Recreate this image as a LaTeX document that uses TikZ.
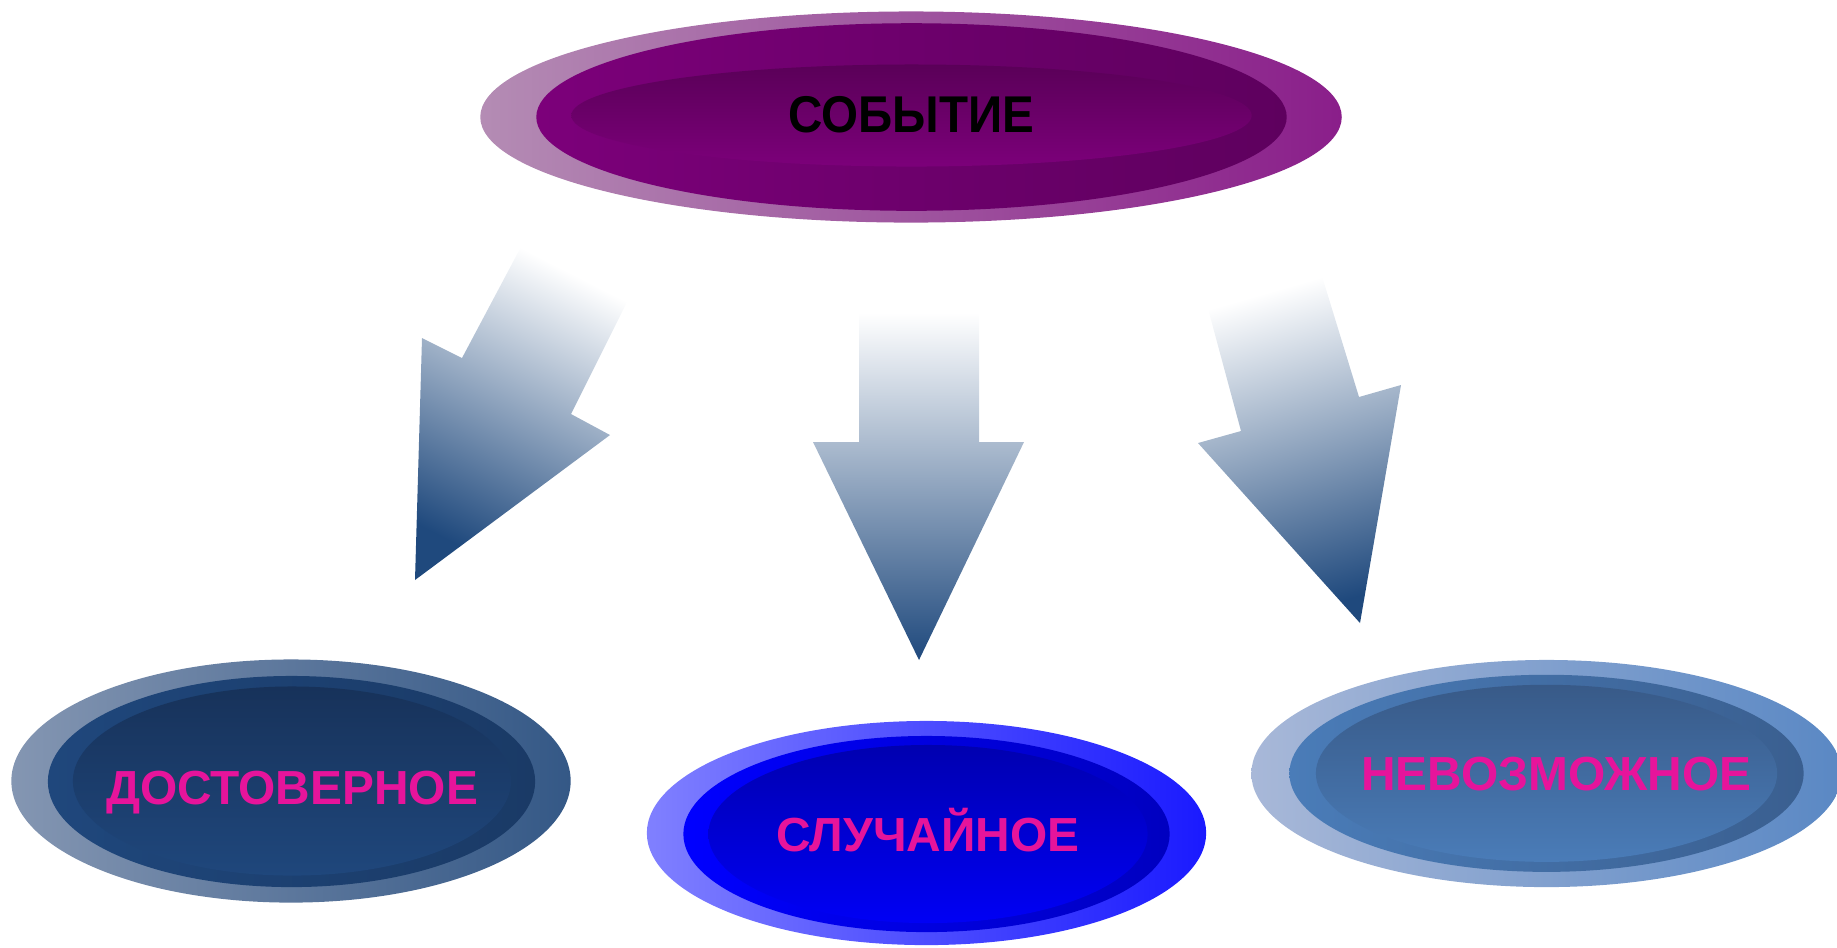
\documentclass[tikz,border=0pt]{standalone}
\usepackage{fontspec}
\setmainfont{Liberation Sans}
\newfontfamily\eventfont[FakeStretch=0.92]{Liberation Sans}
\usetikzlibrary{shapes.geometric}

\definecolor{evtOutL}{HTML}{B48CB4}
\definecolor{evtOutR}{HTML}{8A1E8A}
\definecolor{evtMidL}{HTML}{7C007A}
\definecolor{evtMidR}{HTML}{5E005E}
\definecolor{evtInT}{HTML}{5A0058}
\definecolor{evtInB}{HTML}{7C007A}
\definecolor{sureOutL}{HTML}{8496B2}
\definecolor{sureOutR}{HTML}{345886}
\definecolor{sureMidL}{HTML}{1F477C}
\definecolor{sureMidR}{HTML}{1A3A66}
\definecolor{sureInT}{HTML}{17325A}
\definecolor{sureInB}{HTML}{1F477C}
\definecolor{randOutL}{HTML}{8080FF}
\definecolor{randOutR}{HTML}{1A1AFF}
\definecolor{randMidL}{HTML}{0000FF}
\definecolor{randMidR}{HTML}{0000C0}
\definecolor{randInT}{HTML}{0000B0}
\definecolor{randInB}{HTML}{0000F5}
\definecolor{nopeOutL}{HTML}{A8B8D8}
\definecolor{nopeOutR}{HTML}{5A88C4}
\definecolor{nopeMidL}{HTML}{4A7CB8}
\definecolor{nopeMidR}{HTML}{3A5F90}
\definecolor{nopeInT}{HTML}{385A88}
\definecolor{nopeInB}{HTML}{4A7CB8}
\definecolor{arrowblue}{HTML}{1F497D}
\definecolor{kindtext}{HTML}{E6149B}

\begin{document}
\begin{tikzpicture}[x=0.01cm, y=-0.01cm,
	ring/.style={ellipse, inner sep=0pt, text depth=0pt, text height=0.34cm},
	word/.style={font=\bfseries\fontsize{13.6}{16}\selectfont, text=kindtext},
	arrowshade/.style={top color=white, bottom color=arrowblue}]

	\useasboundingbox (0,0) rectangle (1837,947);

	% top: the event
	\node[ring, left color=evtOutL, right color=evtOutR, minimum width=8.61cm, minimum height=2.11cm] (evt-out) at (911,117) {};
	\node[ring, left color=evtMidL, right color=evtMidR, minimum width=7.5cm, minimum height=1.875cm] (evt-mid) at (911.5,117) {};
	\node[ring, top color=evtInT, bottom color=evtInB, minimum width=6.8cm, minimum height=1.02cm,
		font=\eventfont\bfseries\fontsize{14.7}{16}\selectfont, text=black] (evt) at (911.5,115.5) {\makebox[0pt]{СОБЫТИЕ}};

	% arrow points
	\coordinate (l1) at (522,245);
	\coordinate (l2) at (628,300);
	\coordinate (l3) at (571,414);
	\coordinate (l4) at (610,435);
	\coordinate (l5) at (415,580);
	\coordinate (l6) at (422,338);
	\coordinate (l7) at (462,358);

	\coordinate (m1) at (859,313);
	\coordinate (m2) at (979,313);
	\coordinate (m3) at (979,442);
	\coordinate (m4) at (1024,442);
	\coordinate (m5) at (919,660);
	\coordinate (m6) at (813,442);
	\coordinate (m7) at (859,442);

	\coordinate (r1) at (1207,305);
	\coordinate (r2) at (1321,273);
	\coordinate (r3) at (1359,397);
	\coordinate (r4) at (1401,385);
	\coordinate (r5) at (1360,623);
	\coordinate (r6) at (1198,443);
	\coordinate (r7) at (1241,431);

	\shade[arrowshade, shading angle=-27] (l1) -- (l2) -- (l3) -- (l4) -- (l5) -- (l6) -- (l7) -- cycle;
	\shade[arrowshade] (m1) -- (m2) -- (m3) -- (m4) -- (m5) -- (m6) -- (m7) -- cycle;
	\shade[arrowshade, shading angle=16] (r1) -- (r2) -- (r3) -- (r4) -- (r5) -- (r6) -- (r7) -- cycle;

	% bottom left: certain
	\node[ring, left color=sureOutL, right color=sureOutR, minimum width=5.59cm, minimum height=2.43cm] (sure-out) at (291,781) {};
	\node[ring, left color=sureMidL, right color=sureMidR, minimum width=4.87cm, minimum height=2.11cm] (sure-mid) at (291.5,781.5) {};
	\node[ring, word, top color=sureInT, bottom color=sureInB, minimum width=4.38cm, minimum height=1.89cm] (sure) at (292,781) {\makebox[0pt]{\raisebox{-0.06cm}{ДОСТОВЕРНОЕ}}};

	% bottom middle: random
	\node[ring, left color=randOutL, right color=randOutR, minimum width=5.59cm, minimum height=2.24cm] (rand-out) at (926.5,833) {};
	\node[ring, left color=randMidL, right color=randMidR, minimum width=4.86cm, minimum height=1.96cm] (rand-mid) at (926.5,834) {};
	\node[ring, word, top color=randInT, bottom color=randInB, minimum width=4.39cm, minimum height=1.78cm] (rand) at (928,834) {\makebox[0pt]{СЛУЧАЙНОЕ}};

	% bottom right: impossible
	\node[ring, left color=nopeOutL, right color=nopeOutR, minimum width=5.9cm, minimum height=2.27cm] (nope-out) at (1546.5,773.5) {};
	\node[ring, left color=nopeMidL, right color=nopeMidR, minimum width=5.14cm, minimum height=1.97cm] (nope-mid) at (1546.5,773.3) {};
	\node[ring, word, top color=nopeInT, bottom color=nopeInB, minimum width=4.61cm, minimum height=1.77cm] (nope) at (1546.5,773.3) {\makebox[0pt]{\hspace{0.2cm}НЕВОЗМОЖНОЕ}};

\end{tikzpicture}
\end{document}
